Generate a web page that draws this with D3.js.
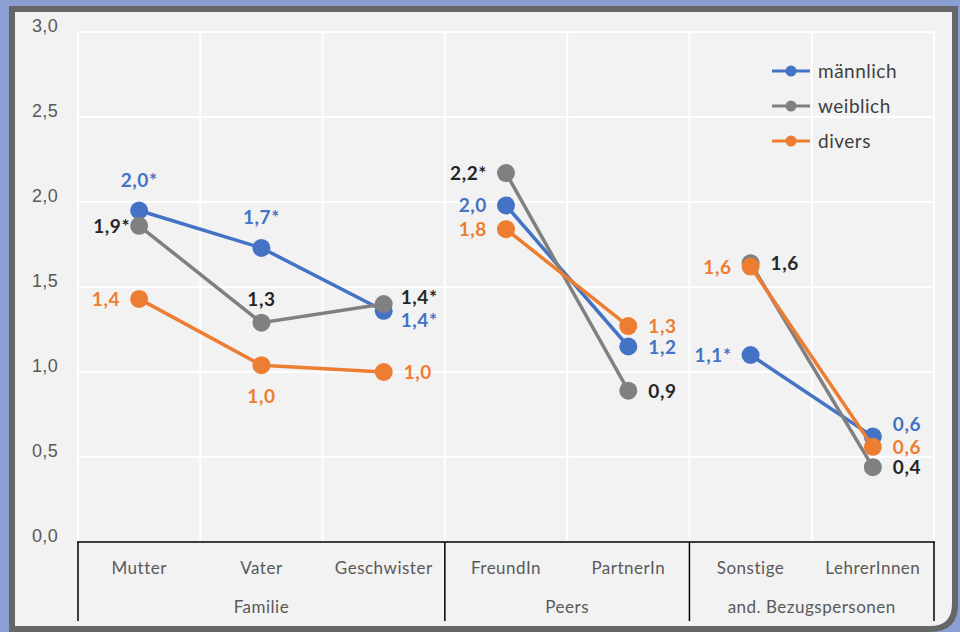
<!DOCTYPE html>
<html><head>
<meta charset="utf-8">
<script src="https://d3js.org/d3.v7.min.js"></script>
<style>
  body { margin: 0; background: #8c9fd3; }
  svg { display: block; font-family: Lato, "Open Sans", sans-serif; }
  .tick text { fill: #595959; font-size: 18px; letter-spacing: 0.3px; }
  .cat { fill: #595959; font-size: 17px; letter-spacing: 0.5px; }
  .lbl { font-size: 19px; font-weight: bold; letter-spacing: 0.6px; }
  .legend text { fill: #404040; font-size: 19px; letter-spacing: 0.5px; }
</style>
</head>
<body>
<svg id="chart" width="960" height="632"></svg>
<script>

// categories and their groups
const categories = ["Mutter", "Vater", "Geschwister", "FreundIn", "PartnerIn", "Sonstige", "LehrerInnen"];
const groupNames = ["Familie", "Peers", "and. Bezugspersonen"];
const groupOf = [0, 0, 0, 1, 1, 2, 2];
const yTicks = [0, 0.5, 1, 1.5, 2, 2.5, 3];

// values per series
const maennlich = [1.95, 1.73, 1.36, 1.98, 1.15, 1.10, 0.62];
const weiblich  = [1.86, 1.29, 1.40, 2.17, 0.89, 1.64, 0.44];
const divers    = [1.43, 1.04, 1.00, 1.84, 1.27, 1.62, 0.56];

// data labels as printed in the chart
const maennlichLabels = ["2,0*", "1,7*", "1,4*", "2,0", "1,2", "1,1*", "0,6"];
const weiblichLabels  = ["1,9*", "1,3", "1,4*", "2,2*", "0,9", "1,6", "0,4"];
const diversLabels    = ["1,4", "1,0", "1,0", "1,8", "1,3", "1,6", "0,6"];

// where each label sits relative to its point
const maennlichPlace = ["top", "top", "right-down", "left", "right", "left", "right-up"];
const weiblichPlace  = ["left-near", "top-near", "right-raise", "left", "right", "right", "right"];
const diversPlace    = ["left", "bottom", "right", "left", "right", "left", "right"];

const series = [
  {name: "männlich", values: maennlich, labels: maennlichLabels, place: maennlichPlace, color: "#4472c4", text: "#4472c4"},
  {name: "weiblich", values: weiblich, labels: weiblichLabels, place: weiblichPlace, color: "#808080", text: "#262626"},
  {name: "divers", values: divers, labels: diversLabels, place: diversPlace, color: "#ed7d31", text: "#ed7d31"}
];

var svg = d3.select("#chart");

// frame with rounded bottom-right corner
svg.append("path")
  .attr("d", "M12,640 L12,9 L955,9 L955,604 Q955,629 930,629 L12,629")
  .attr("fill", "#f2f2f2")
  .attr("stroke", "#666")
  .attr("stroke-width", 6);

var plotLeft = 78, plotRight = 934, plotTop = 32, plotBottom = 542;

var x = d3.scaleBand().domain(categories).range([plotLeft, plotRight]);
var y = d3.scaleLinear().domain([0, 3]).range([plotBottom, plotTop]);

// grid
svg.append("g").selectAll("line").data(yTicks.slice(1))
  .join("line")
  .attr("x1", plotLeft).attr("x2", plotRight)
  .attr("y1", d => y(d)).attr("y2", d => y(d))
  .attr("stroke", "#fff").attr("stroke-width", 2);

svg.append("g").selectAll("line").data(categories)
  .join("line")
  .attr("x1", d => x(d) + x.bandwidth()).attr("x2", d => x(d) + x.bandwidth())
  .attr("y1", plotTop).attr("y2", plotBottom)
  .attr("stroke", "#fff").attr("stroke-width", 2);
svg.append("line")
  .attr("x1", plotLeft).attr("x2", plotLeft).attr("y1", plotTop).attr("y2", plotBottom)
  .attr("stroke", "#fff").attr("stroke-width", 2);

// y axis labels
var yAxis = d3.axisLeft(y).tickValues(yTicks).tickSize(0).tickPadding(20)
  .tickFormat(d => d3.format(".1f")(d).replace(".", ","));
svg.append("g").attr("transform", `translate(${plotLeft},0)`).call(yAxis)
  .call(g => g.select(".domain").remove())
  .call(g => g.selectAll("text").attr("dy", "-0.05em"));

// x axis with grouped categories
svg.append("line")
  .attr("x1", plotLeft - 1).attr("x2", plotRight + 1).attr("y1", plotBottom).attr("y2", plotBottom)
  .attr("stroke", "#000").attr("stroke-width", 1.5);

var groups = groupNames.map((g, i) => {
  var cats = categories.filter((c, j) => groupOf[j] === i);
  return {name: g, x0: x(cats[0]), x1: x(cats[cats.length - 1]) + x.bandwidth()};
});

var sepX = [plotLeft].concat(groups.map(g => g.x1));
svg.append("g").selectAll("line").data(sepX)
  .join("line")
  .attr("x1", d => d).attr("x2", d => d)
  .attr("y1", plotBottom).attr("y2", 621)
  .attr("stroke", "#000").attr("stroke-width", 1.5);

svg.append("g").selectAll("text").data(categories)
  .join("text")
  .attr("class", "cat")
  .attr("x", d => x(d) + x.bandwidth() / 2)
  .attr("y", 574)
  .attr("text-anchor", "middle")
  .text(d => d);

svg.append("g").selectAll("text").data(groups)
  .join("text")
  .attr("class", "cat")
  .attr("x", d => (d.x0 + d.x1) / 2)
  .attr("y", 613)
  .attr("text-anchor", "middle")
  .text(d => d.name);

// lines (one segment per group) and markers
var cx = c => x(c) + x.bandwidth() / 2;
var line = d3.line().x(d => cx(d.cat)).y(d => y(d.v));

series.forEach(s => {
  var pts = categories.map((c, i) => ({cat: c, v: s.values[i], g: groupOf[i], lab: s.labels[i], place: s.place[i]}));
  var g = svg.append("g");
  groupNames.forEach((gn, gi) => {
    g.append("path")
      .datum(pts.filter(p => p.g === gi))
      .attr("d", line)
      .attr("fill", "none")
      .attr("stroke", s.color)
      .attr("stroke-width", 3.5);
  });
  g.selectAll("circle").data(pts)
    .join("circle")
    .attr("cx", d => cx(d.cat))
    .attr("cy", d => y(d.v))
    .attr("r", 9)
    .attr("fill", s.color);
  s.pts = pts;
});

// data labels
var offsets = {
  "top": [0, -24, "middle"],
  "top-near": [0, -17, "middle"],
  "bottom": [0, 38, "middle"],
  "left": [-19, 7, "end"],
  "left-near": [-9, 7, "end"],
  "right": [20, 7, "start"],
  "right-up": [20, -6, "start"],
  "right-raise": [17, 0, "start"],
  "right-down": [17, 16, "start"]
};
series.forEach(s => {
  svg.append("g").selectAll("text").data(s.pts)
    .join("text")
    .attr("class", "lbl")
    .attr("fill", s.text)
    .attr("x", d => cx(d.cat) + offsets[d.place][0])
    .attr("y", d => y(d.v) + offsets[d.place][1])
    .attr("text-anchor", d => offsets[d.place][2])
    .text(d => d.lab);
});

// legend
var legend = svg.append("g").attr("class", "legend")
  .selectAll("g").data(series)
  .join("g")
  .attr("transform", (d, i) => `translate(772,${71 + i * 35})`);
legend.append("line")
  .attr("x1", 0).attr("x2", 38)
  .attr("stroke", d => d.color).attr("stroke-width", 3);
legend.append("circle")
  .attr("cx", 19).attr("r", 5.5)
  .attr("fill", d => d.color);
legend.append("text")
  .attr("x", 46).attr("y", 7)
  .text(d => d.name);

</script>
</body>
</html>
